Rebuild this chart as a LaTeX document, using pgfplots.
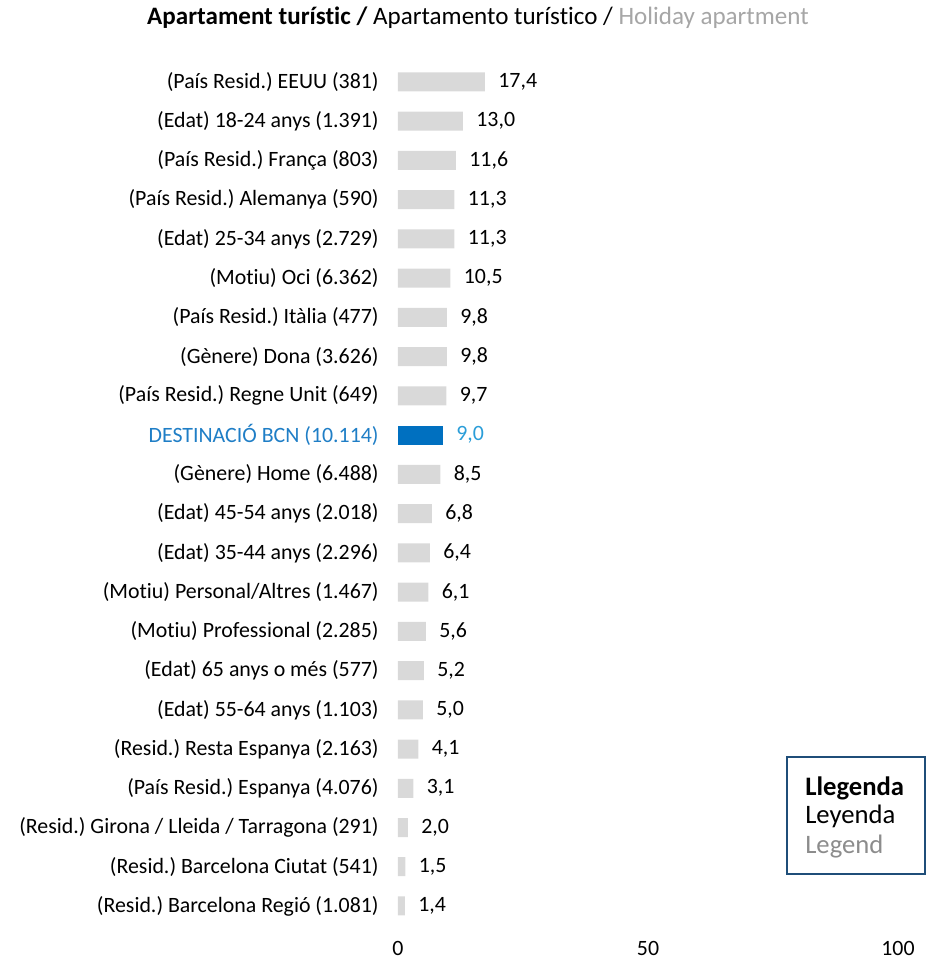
\documentclass[border=0pt]{standalone}
\usepackage{pgfplots}
\pgfplotsset{compat=1.18}
\usepackage{pgfplotstable}
\usepackage{fontspec}
\setmainfont{Carlito}[Ligatures=NoCommon]
\frenchspacing

\definecolor{barGray}{HTML}{D9D9D9}
\definecolor{bcnBlue}{HTML}{0070C0}
\definecolor{bcnLabel}{HTML}{1F7EC6}
\definecolor{bcnValue}{HTML}{2A9DD8}
\definecolor{titleGray}{HTML}{A6A6A6}
\definecolor{legGray}{HTML}{8C8C8C}
\definecolor{legBorder}{HTML}{1F4E79}

% position 0 = top row
\pgfplotstableread{
pos val
0 17.4
1 13.0
2 11.6
3 11.3
4 11.3
5 10.5
6 9.8
7 9.8
8 9.7
10 8.5
11 6.8
12 6.4
13 6.1
14 5.6
15 5.2
16 5.0
17 4.1
18 3.1
19 2.0
20 1.5
21 1.4
}\grayrows

\newcommand{\lbl}{\fontsize{16.4}{20}\selectfont}

\begin{document}
\begin{tikzpicture}
\useasboundingbox (-298.5pt,-27.3pt) rectangle (396.75pt,694.2pt);
\begin{axis}[
    scale only axis,
    width=375pt, height=647.5pt,
    xbar, bar width=14.25pt, bar shift=0pt,
    xmin=0, xmax=100,
    ymin=-0.5, ymax=21.5, y dir=reverse,
    xtick={0,50,100},
    ytick={0,...,21},
    yticklabels={
      (País Resid.) EEUU (381),
      (Edat) 18-24 anys (1.391),
      (País Resid.) França (803),
      (País Resid.) Alemanya (590),
      (Edat) 25-34 anys (2.729),
      (Motiu) Oci (6.362),
      (País Resid.) Itàlia (477),
      (Gènere) Dona (3.626),
      (País Resid.) Regne Unit (649),
      \textcolor{bcnLabel}{DESTINACIÓ BCN (10.114)},
      (Gènere) Home (6.488),
      (Edat) 45-54 anys (2.018),
      (Edat) 35-44 anys (2.296),
      (Motiu) Personal/Altres (1.467),
      (Motiu) Professional (2.285),
      (Edat) 65 anys o més (577),
      (Edat) 55-64 anys (1.103),
      (Resid.) Resta Espanya (2.163),
      (País Resid.) Espanya (4.076),
      (Resid.) Girona / Lleida / Tarragona (291),
      (Resid.) Barcelona Ciutat (541),
      (Resid.) Barcelona Regió (1.081)
    },
    axis line style={draw=none},
    major tick length=0pt,
    tick label style={font=\lbl},
    yticklabel style={xshift=-11pt},
    xticklabel style={yshift=-8pt},
    /pgf/number format/assume math mode=true,
    point meta=x,
    nodes near coords={\pgfmathprintnumber[fixed,fixed zerofill,precision=1,use comma,assume math mode=true]{\pgfplotspointmeta}},
    nodes near coords style={font=\lbl, anchor=west, xshift=6.5pt},
  ]
  \addplot[fill=barGray, draw=none] table[x=val, y=pos] {\grayrows};
  \addplot[fill=bcnBlue, draw=none, nodes near coords style={text=bcnValue}] coordinates {(9.0,9)};
\end{axis}

\node[font=\fontsize{18.8}{22}\selectfont] at (60pt,681pt) {\textbf{Apartament turístic /} Apartamento turístico / \textcolor{titleGray}{Holiday apartment}};

\draw[legBorder, line width=2pt] (291.75pt,38.7pt) rectangle (395.25pt,126.45pt);
\node[anchor=west, font=\fontsize{20}{24}\selectfont\bfseries, inner sep=0pt] at (305.25pt,103.2pt) {Llegenda};
\node[anchor=west, font=\fontsize{20}{24}\selectfont, inner sep=0pt] at (305.25pt,82.2pt) {Leyenda};
\node[anchor=west, font=\fontsize{20}{24}\selectfont, text=legGray, inner sep=0pt] at (305.25pt,59pt) {Legend};
\end{tikzpicture}
\end{document}
